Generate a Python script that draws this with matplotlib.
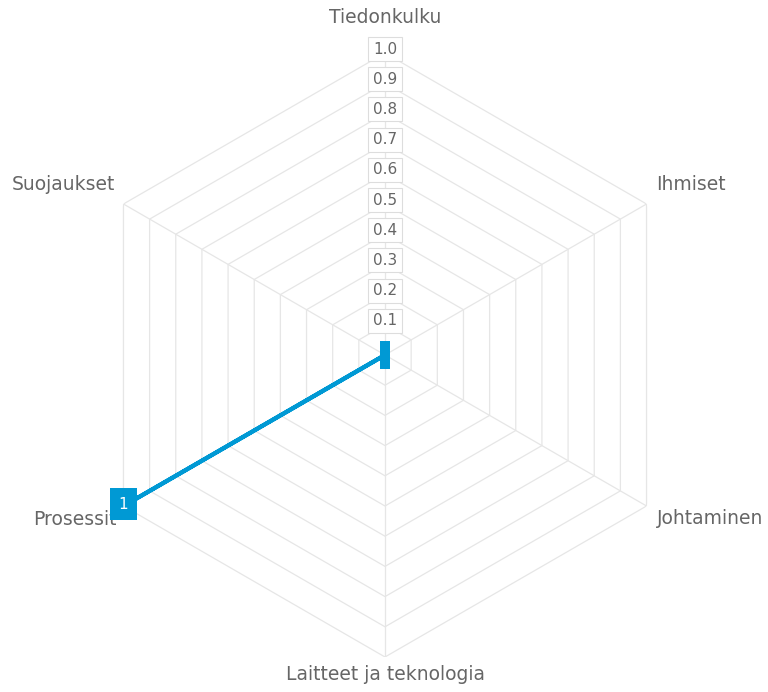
import numpy as np
import matplotlib
matplotlib.use('Agg')
import matplotlib.pyplot as plt

# categories clockwise from the top
categories = ['Tiedonkulku', 'Ihmiset', 'Johtaminen', 'Laitteet ja teknologia', 'Prosessit', 'Suojaukset']
values = [0, 0, 0, 0, 1, 0]
ring_levels = [0.1, 0.2, 0.3, 0.4, 0.5, 0.6, 0.7, 0.8, 0.9, 1.0]
ring_labels = ['0.1', '0.2', '0.3', '0.4', '0.5', '0.6', '0.7', '0.8', '0.9', '1.0']

# label placement (offset pixels, alignment) per category
label_pos = [((0, 36), 'center', 'center'),
             ((10, 20), 'left', 'center'),
             ((10, -13), 'left', 'center'),
             ((0, -18), 'center', 'center'),
             ((-7, -13), 'right', 'center'),
             ((-8, 20), 'right', 'center')]

grid_col = '#e6e6e6'
text_col = '#666666'
line_col = '#0099d4'

n = len(categories)
angles = np.linspace(0, 2 * np.pi, n, endpoint=False)
closed = np.append(angles, angles[0])

fig = plt.figure(figsize=(7.68, 6.92), dpi=100)
ax = fig.add_axes([83 / 768, 35 / 692, 604 / 768, 604 / 692], projection='polar')
ax.set_theta_offset(np.pi / 2)
ax.set_theta_direction(-1)
ax.set_ylim(0, 1)
ax.grid(False)
ax.spines['polar'].set_visible(False)
ax.set_xticks([])
ax.set_yticks([])

# hexagon rings
for r in ring_levels:
    ax.plot(closed, [r] * (n + 1), color=grid_col, lw=0.9, zorder=1)
# spokes
for a in angles:
    ax.plot([a, a], [0, 1], color=grid_col, lw=0.9, zorder=1)

# ring labels on the top axis
for r, lab in zip(ring_levels, ring_labels):
    ax.annotate(lab, xy=(0, r), xytext=(0, 4), textcoords='offset pixels',
                ha='center', va='center', fontsize=11, color=text_col, zorder=3,
                bbox=dict(boxstyle='square,pad=0.3', fc='white', ec='#dddddd', lw=0.8))

# category labels
for a, cat, (off, ha, va) in zip(angles, categories, label_pos):
    ax.annotate(cat, xy=(a, 1.0), xytext=off, textcoords='offset pixels',
                ha=ha, va=va, fontsize=13.5, color=text_col, annotation_clip=False)

# data series
vals = values + [values[0]]
ax.plot(closed, vals, color=line_col, lw=3, zorder=4, solid_capstyle='butt')

# data labels
for a, v in zip(angles, values):
    if v > 0:
        ax.annotate(str(v), xy=(a, v), xytext=(0, 2), textcoords='offset pixels',
                    ha='center', va='center', fontsize=11, color='white', zorder=6,
                    annotation_clip=False,
                    bbox=dict(boxstyle='square,pad=0.55', fc=line_col, ec='none'))
ax.plot([0], [0], marker='|', markersize=20, mew=7.2, color=line_col, zorder=5)

fig.savefig('out.png', dpi=100)
